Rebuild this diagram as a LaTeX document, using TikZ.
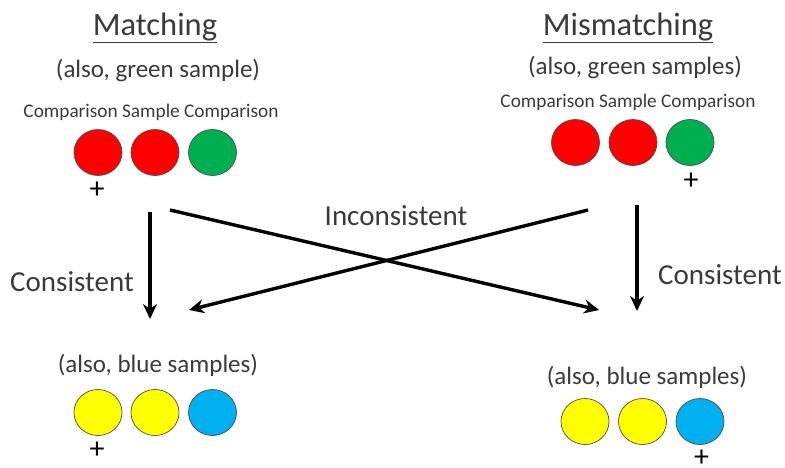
\documentclass[tikz,border=0pt]{standalone}
\usepackage{fontspec}
\setmainfont{Carlito}
\usetikzlibrary{arrows.meta,shapes.geometric}
\definecolor{txt}{HTML}{3A3A3A}
\definecolor{cred}{HTML}{FF0000}
\definecolor{cgreen}{HTML}{00B050}
\definecolor{cyellow}{HTML}{FFFF00}
\definecolor{cblue}{HTML}{00B0F0}
\tikzset{
  dot/.style={ellipse, draw=black!70, line width=0.7pt, minimum width=48pt, minimum height=46pt, inner sep=0pt},
  title/.style={text=txt, font=\fontsize{32.5}{34}\selectfont},
  note/.style={text=txt, font=\fontsize{25}{27}\selectfont},
  small/.style={text=txt, font=\fontsize{19.3}{21}\selectfont},
  lbl/.style={text=txt, font=\fontsize{29}{31}\selectfont},
  plus/.style={text=black, font=\fontsize{30}{32}\selectfont},
  arr/.style={line width=3.4pt, -{Stealth[length=15pt,width=14pt]}},
}
\begin{document}
\begin{tikzpicture}[x=1pt,y=-1pt]
\useasboundingbox (0,0) rectangle (785,467);

% top left: matching
\node[title] (tl) at (155,28) {\underline{Matching}};
\node[note] (tlnote) at (158,70) {(also, green sample)};
\node[small] (tlcap) at (151,112) {Comparison Sample Comparison};
\node[dot, fill=cred] (a1) at (98,152.5) {};
\node[dot, fill=cred] (a2) at (155,152.5) {};
\node[dot, fill=cgreen] (a3) at (212.5,152.5) {};
\node[plus] (ap) at (97,190) {+};

% top right: mismatching
\node[title] (tr) at (628,28) {\underline{Mismatching}};
\node[note] (trnote) at (635,67) {(also, green samples)};
\node[small] (trcap) at (628,102) {Comparison Sample Comparison};
\node[dot, fill=cred] (b1) at (575.5,142.5) {};
\node[dot, fill=cred] (b2) at (633,142.5) {};
\node[dot, fill=cgreen] (b3) at (690,142.5) {};
\node[plus] (bp) at (691,181) {+};

% bottom left
\node[note] (blnote) at (158,365) {(also, blue samples)};
\node[dot, fill=cyellow] (c1) at (98,412.5) {};
\node[dot, fill=cyellow] (c2) at (155,412.5) {};
\node[dot, fill=cblue] (c3) at (212.5,412.5) {};
\node[plus] (cp) at (97,450) {+};

% bottom right
\node[note] (brnote) at (647,377) {(also, blue samples)};
\node[dot, fill=cyellow] (d1) at (585,421.5) {};
\node[dot, fill=cyellow] (d2) at (642.5,421.5) {};
\node[dot, fill=cblue] (d3) at (700,421.5) {};
\node[plus] (dp) at (701.5,458) {+};

% arrow ends
\coordinate (s1) at (150,212);
\coordinate (e1) at (150,319);
\coordinate (s2) at (637,205);
\coordinate (e2) at (637,311);
\coordinate (s3) at (170,210);
\coordinate (e3) at (599,310);
\coordinate (s4) at (588,210);
\coordinate (e4) at (189,310);

\draw[arr] (s1) -- (e1);
\draw[arr] (s2) -- (e2);
\draw[arr] (s3) -- (e3);
\draw[arr] (s4) -- (e4);

\node[lbl] (incons) at (396,216) {Inconsistent};
\node[lbl] (consl) at (72,282) {Consistent};
\node[lbl] (consr) at (720,275) {Consistent};
\end{tikzpicture}
\end{document}
